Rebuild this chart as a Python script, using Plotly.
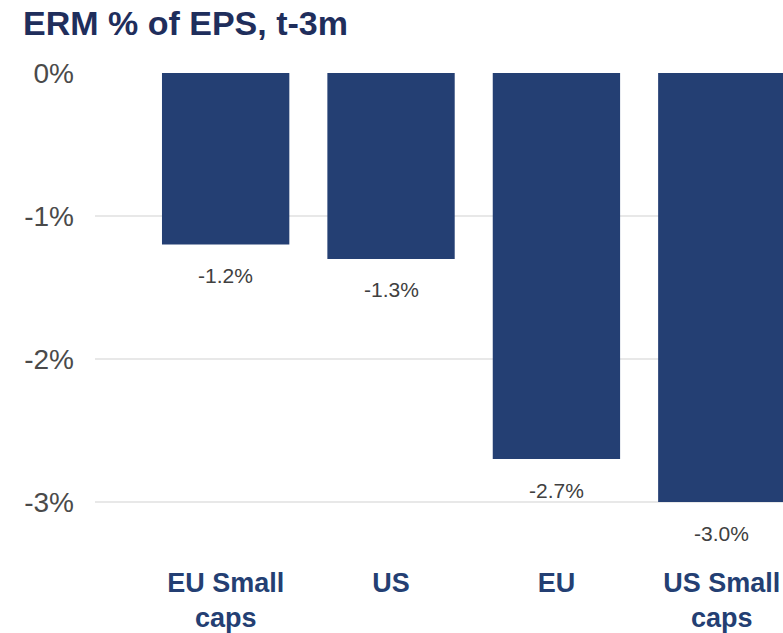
import plotly.graph_objects as go

categories = ["EU Small<br>caps", "US", "EU", "US Small<br>caps"]
values = [-1.2, -1.3, -2.7, -3.0]
value_labels = ["-1.2%", "-1.3%", "-2.7%", "-3.0%"]
y_ticks = [0, -1, -2, -3]
y_tick_labels = ["0%", "-1%", "-2%", "-3%"]

navy = "#243F73"
font_family = "Liberation Sans, Arial, sans-serif"

W, H = 783, 633
fig = go.Figure()
fig.add_trace(go.Bar(
    x=list(range(len(categories))),
    y=values,
    marker=dict(color=navy, line=dict(width=0)),
    hoverinfo="skip",
))

for i, (v, t) in enumerate(zip(values, value_labels)):
    fig.add_annotation(
        x=i, y=v, text=t, showarrow=False,
        yshift=-31, yanchor="middle",
        font=dict(family=font_family, size=21, color="#404040"),
    )

fig.update_layout(
    width=W, height=H,
    margin=dict(l=95, r=0, t=73, b=69),
    paper_bgcolor="white", plot_bgcolor="white",
    showlegend=False,
    bargap=0.23,
    title=dict(
        text="<b>ERM % of EPS, t-3m</b>",
        x=23 / W, xanchor="left", xref="container",
        y=1 - 23 / H, yanchor="middle", yref="container",
        font=dict(family=font_family, size=34, color="#1F2E5C"),
    ),
    xaxis=dict(
        range=[-0.79, 3.37],
        tickmode="array",
        tickvals=list(range(len(categories))),
        ticktext=[f"<b>{c}</b>" for c in categories],
        tickfont=dict(family=font_family, size=27, color=navy),
        showgrid=False, zeroline=False, showline=False,
        ticks="", automargin=False,
    ),
    yaxis=dict(
        range=[-491 / 143, 0],
        tickmode="array",
        tickvals=y_ticks,
        ticktext=y_tick_labels,
        tickfont=dict(family=font_family, size=28, color="#4A4A4A"),
        showgrid=True, gridcolor="#E8E8E8", gridwidth=2,
        zeroline=False, showline=False,
        ticks="", ticklabelstandoff=20, automargin=False,
    ),
)

fig.write_html(
    "out.html",
    config={"displayModeBar": False},
    post_script="document.body.style.margin='0';document.body.style.overflow='hidden';",
)
